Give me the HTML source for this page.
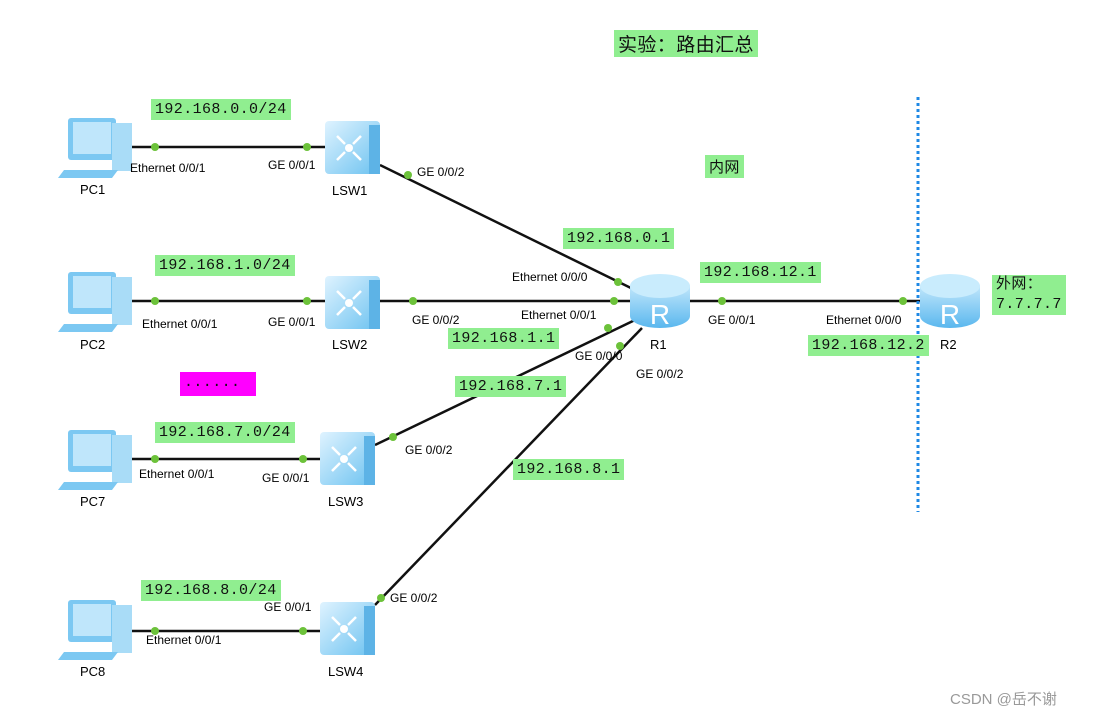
<!DOCTYPE html>
<html><head><meta charset="utf-8"><style>
body{margin:0;background:#fff;width:1102px;height:719px;overflow:hidden;position:relative;font-family:"Liberation Sans","Noto Sans CJK SC",sans-serif}
.g{position:absolute;background:#90ee90;font-family:"Liberation Mono","Noto Sans CJK SC",monospace;font-size:15px;letter-spacing:0.4px;line-height:21px;padding:0 4px;color:#111;white-space:pre}
.t{position:absolute;font-size:12px;color:#000;white-space:nowrap}
.n{position:absolute;font-size:13px;color:#000}
</style></head><body>
<svg width="1102" height="719" style="position:absolute;left:0;top:0">
<defs>
<linearGradient id="gsw" x1="0" y1="0" x2="1" y2="1"><stop offset="0" stop-color="#dff3ff"/><stop offset="1" stop-color="#6cc2f0"/></linearGradient>
<linearGradient id="grt" x1="0" y1="0" x2="0" y2="1"><stop offset="0" stop-color="#bfe6fb"/><stop offset="1" stop-color="#5ab7ee"/></linearGradient>
<g id="pc"><rect x="0" y="0" width="48" height="42" rx="3" fill="#7cc8f2"/><rect x="5" y="4" width="38" height="32" fill="#bfe6fb"/><rect x="44" y="5" width="20" height="48" fill="#a9dcf7"/><path d="M-4 52 L50 52 L44 60 L-10 60Z" fill="#7cc8f2"/></g>
<g id="swi"><rect x="0" y="0" width="55" height="53" rx="4" fill="url(#gsw)"/><rect x="44" y="4" width="11" height="49" fill="#5db3e6"/><circle cx="24" cy="27" r="4" fill="#fff"/><path d="M12 15l8 8M36 15l-8 8M12 39l8-8M36 39l-8-8" stroke="#fff" stroke-width="2.5"/></g>
<g id="rtr"><path d="M0 14 L0 44 A30 12 0 0 0 60 44 L60 14Z" fill="url(#grt)"/><ellipse cx="30" cy="14" rx="30" ry="12" fill="#c9ecfd"/><text x="30" y="52" font-size="28" fill="#fff" text-anchor="middle" font-family="Liberation Sans">R</text></g>
</defs>
<g stroke="#111" stroke-width="2.5">
<line x1="125" y1="147" x2="325" y2="147"/><line x1="380" y1="165" x2="635" y2="290"/>
<line x1="125" y1="301" x2="325" y2="301"/><line x1="380" y1="301" x2="632" y2="301"/>
<line x1="690" y1="301" x2="920" y2="301"/>
<line x1="125" y1="459" x2="320" y2="459"/><line x1="375" y1="445" x2="635" y2="320"/>
<line x1="125" y1="631" x2="320" y2="631"/><line x1="375" y1="605" x2="642" y2="328"/>
</g>
<line x1="918" y1="97" x2="918" y2="512" stroke="#1e88e5" stroke-width="3" stroke-dasharray="3,3"/>
<g fill="#6cc23a">
<circle cx="155" cy="147" r="4"/><circle cx="307" cy="147" r="4"/><circle cx="408" cy="175" r="4"/><circle cx="618" cy="282" r="4"/>
<circle cx="155" cy="301" r="4"/><circle cx="307" cy="301" r="4"/><circle cx="413" cy="301" r="4"/><circle cx="614" cy="301" r="4"/>
<circle cx="722" cy="301" r="4"/><circle cx="903" cy="301" r="4"/>
<circle cx="155" cy="459" r="4"/><circle cx="303" cy="459" r="4"/><circle cx="393" cy="437" r="4"/><circle cx="608" cy="328" r="4"/>
<circle cx="155" cy="631" r="4"/><circle cx="303" cy="631" r="4"/><circle cx="381" cy="598" r="4"/><circle cx="620" cy="346" r="4"/>
</g>
<use href="#pc" x="68" y="118"/><use href="#pc" x="68" y="272"/><use href="#pc" x="68" y="430"/><use href="#pc" x="68" y="600"/>
<use href="#swi" x="325" y="121"/><use href="#swi" x="325" y="276"/><use href="#swi" x="320" y="432"/><use href="#swi" x="320" y="602"/>
<use href="#rtr" x="630" y="272"/><use href="#rtr" x="920" y="272"/>
</svg>
<div class="g" style="left:614px;top:30px;font-size:19px;line-height:27px;font-family:'Noto Sans CJK SC',sans-serif">实验：路由汇总</div>
<div class="g" style="left:705px;top:155px;font-size:15px;line-height:23px;font-family:'Noto Sans CJK SC',sans-serif">内网</div>
<div class="g" style="left:992px;top:275px;line-height:20px">外网：
7.7.7.7</div>
<div class="g" style="left:151px;top:99px">192.168.0.0/24</div>
<div class="g" style="left:155px;top:255px">192.168.1.0/24</div>
<div class="g" style="left:180px;top:372px;background:#f0f;height:24px;width:68px">......</div>
<div class="g" style="left:155px;top:422px">192.168.7.0/24</div>
<div class="g" style="left:141px;top:580px">192.168.8.0/24</div>
<div class="g" style="left:563px;top:228px">192.168.0.1</div>
<div class="g" style="left:700px;top:262px">192.168.12.1</div>
<div class="g" style="left:448px;top:328px">192.168.1.1</div>
<div class="g" style="left:455px;top:376px">192.168.7.1</div>
<div class="g" style="left:513px;top:459px">192.168.8.1</div>
<div class="g" style="left:808px;top:335px">192.168.12.2</div>
<div class="t" style="left:130px;top:161px">Ethernet 0/0/1</div><div class="t" style="left:268px;top:158px">GE 0/0/1</div><div class="t" style="left:417px;top:165px">GE 0/0/2</div>
<div class="t" style="left:142px;top:317px">Ethernet 0/0/1</div><div class="t" style="left:268px;top:315px">GE 0/0/1</div><div class="t" style="left:412px;top:313px">GE 0/0/2</div>
<div class="t" style="left:512px;top:270px">Ethernet 0/0/0</div><div class="t" style="left:521px;top:308px">Ethernet 0/0/1</div>
<div class="t" style="left:575px;top:349px">GE 0/0/0</div><div class="t" style="left:636px;top:367px">GE 0/0/2</div>
<div class="t" style="left:708px;top:313px">GE 0/0/1</div><div class="t" style="left:826px;top:313px">Ethernet 0/0/0</div>
<div class="t" style="left:139px;top:467px">Ethernet 0/0/1</div><div class="t" style="left:262px;top:471px">GE 0/0/1</div><div class="t" style="left:405px;top:443px">GE 0/0/2</div>
<div class="t" style="left:264px;top:600px">GE 0/0/1</div><div class="t" style="left:390px;top:591px">GE 0/0/2</div><div class="t" style="left:146px;top:633px">Ethernet 0/0/1</div>
<div class="n" style="left:80px;top:182px">PC1</div><div class="n" style="left:332px;top:183px">LSW1</div>
<div class="n" style="left:80px;top:337px">PC2</div><div class="n" style="left:332px;top:337px">LSW2</div>
<div class="n" style="left:80px;top:494px">PC7</div><div class="n" style="left:328px;top:494px">LSW3</div>
<div class="n" style="left:80px;top:664px">PC8</div><div class="n" style="left:328px;top:664px">LSW4</div>
<div class="n" style="left:650px;top:337px">R1</div><div class="n" style="left:940px;top:337px">R2</div>
<div class="n" style="left:950px;top:688px;font-size:15px;color:#999">CSDN @岳不谢</div>
</body></html>
